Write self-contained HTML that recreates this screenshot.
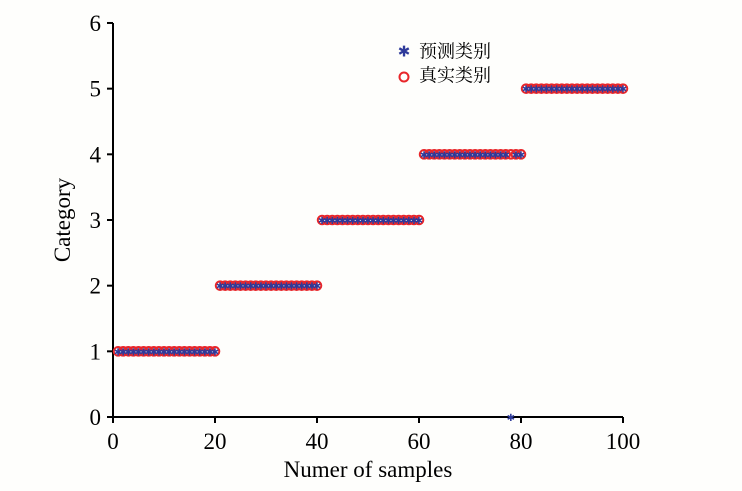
<!DOCTYPE html>
<html><head><meta charset="utf-8">
<style>
html,body{margin:0;padding:0;background:#fefefc;}
svg{display:block;font-family:"Liberation Serif","Noto Serif CJK SC",serif;}
</style></head>
<body>
<svg id="chart" width="742" height="491">
<g id="axes"></g>
<g id="marks"></g>
<text x="368" y="477" font-size="23" text-anchor="middle">Numer of samples</text>
<text transform="translate(70,220) rotate(-90)" font-size="23" text-anchor="middle">Category</text>
<g>
<g>
<text x="404" y="53" font-size="15" fill="#2e3a9a" text-anchor="middle" dominant-baseline="middle">✱</text>
<text x="419" y="53" font-size="18" font-family="Noto Serif CJK SC,serif" dominant-baseline="middle">预测类别</text>
</g>
<g>
<circle cx="404" cy="77" r="4.5" fill="none" stroke="#e8262a" stroke-width="2"/>
<text x="419" y="77" font-size="18" font-family="Noto Serif CJK SC,serif" dominant-baseline="middle">真实类别</text>
</g>
</g>
</svg>
<script>
const xTicks=[0,20,40,60,80,100];
const yTicks=[0,1,2,3,4,5,6];
const actual=[];
for(let c=1;c<=5;c++){for(let i=0;i<20;i++)actual.push(c);}
const predicted=actual.slice();
predicted[77]=0;
const samples=actual.map((_,i)=>i+1);

const X=v=>113+v*5.1, Y=v=>417-v*65.67;
const NS="http://www.w3.org/2000/svg";
const ax=document.getElementById('axes'), mk=document.getElementById('marks');
function el(t,a,p){const e=document.createElementNS(NS,t);for(const k in a)e.setAttribute(k,a[k]);p.appendChild(e);return e;}
const xl=el('line',{x1:X(0),y1:Y(0),x2:X(100),y2:Y(0),stroke:'#000','stroke-width':2},ax);


const yl=el('line',{x1:X(0),y1:Y(0),x2:X(0),y2:Y(6),stroke:'#000','stroke-width':2},ax);


xTicks.forEach(v=>{
 el('line',{x1:X(v),y1:Y(0),x2:X(v),y2:Y(0)+6,stroke:'#000','stroke-width':2},ax);
 const t=el('text',{x:X(v),y:Y(0)+32,'font-size':23,'text-anchor':'middle'},ax);t.textContent=v;
 
 
});
yTicks.forEach(v=>{
 el('line',{x1:X(0)-6,y1:Y(v),x2:X(0),y2:Y(v),stroke:'#000','stroke-width':2},ax);
 const t=el('text',{x:X(0)-12,y:Y(v)+8,'font-size':23,'text-anchor':'end'},ax);t.textContent=v;
 
 
});
samples.forEach((s,i)=>{
 const c=el('circle',{cx:X(s),cy:Y(actual[i]),r:4.3,fill:'none',stroke:'#e8262a','stroke-width':2},mk);
 
 
});
samples.forEach((s,i)=>{
 const t=el('text',{x:X(s),y:Y(predicted[i])+4,'font-size':10,fill:'#2e3a9a','text-anchor':'middle'},mk);
 t.textContent='✱';
 
 
});
</script>
</body></html>
